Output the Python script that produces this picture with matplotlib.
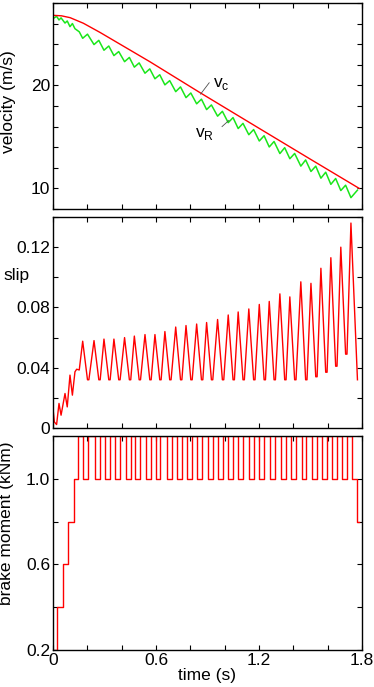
import matplotlib
matplotlib.use("Agg")
import matplotlib.pyplot as plt
import numpy as np

plt.rcParams['font.family'] = ['Liberation Sans', 'DejaVu Sans']

# --- data ---
# vehicle (red) velocity
vc_t = [0.0, 0.05, 0.10, 0.177, 0.274, 0.371, 0.468, 0.565, 0.856, 1.20, 1.50, 1.784]
vc_v = [26.8, 26.75, 26.57, 26.03, 25.14, 24.19, 23.24, 22.29, 19.30, 15.84, 12.83, 10.0]

# wheel (green) velocity: start wiggles, then min/max of each cycle
vr_start_t = [0.002, 0.021, 0.035, 0.047, 0.070, 0.083, 0.099, 0.113, 0.128, 0.153]
vr_start_v = [26.5, 26.7, 26.35, 26.55, 26.05, 26.25, 25.7, 26.0, 25.5, 25.2]
vr_min_t = [0.173, 0.239, 0.297, 0.355, 0.417, 0.474, 0.536, 0.594, 0.652, 0.715,
            0.775, 0.837, 0.895, 0.959, 1.021, 1.079, 1.141, 1.202, 1.260, 1.322,
            1.380, 1.444, 1.503, 1.561, 1.619, 1.677, 1.736]
vr_min_v = [24.57, 23.96, 23.41, 22.89, 22.30, 21.77, 21.18, 20.64, 20.05, 19.39,
            18.81, 18.21, 17.65, 17.01, 16.38, 15.81, 15.21, 14.60, 14.02, 13.38,
            12.88, 12.16, 11.64, 10.99, 10.39, 9.79, 9.10]
vr_max_t = [0.201, 0.267, 0.325, 0.383, 0.445, 0.502, 0.564, 0.622, 0.680, 0.743,
            0.803, 0.865, 0.923, 0.987, 1.049, 1.107, 1.169, 1.230, 1.288, 1.350,
            1.408, 1.472, 1.531, 1.589, 1.647, 1.705, 1.774]
vr_max_v = [24.97, 24.37, 23.82, 23.28, 22.71, 22.18, 21.60, 21.03, 20.46, 19.85,
            19.26, 18.66, 18.10, 17.48, 16.87, 16.31, 15.71, 15.11, 14.55, 13.95,
            13.39, 12.76, 12.16, 11.57, 10.96, 10.31, 9.83]

# slip: ramp at start, then peaks / troughs of each cycle
slip_start_t = [0.002, 0.008, 0.021, 0.035, 0.047, 0.070, 0.083, 0.099, 0.113, 0.128, 0.138, 0.153]
slip_start_v = [0.0107, 0.004, 0.0023, 0.0163, 0.0085, 0.0229, 0.014, 0.0351, 0.0218, 0.0373, 0.039, 0.0385]
slip_peak_t = vr_min_t
slip_peak_v = [0.0576, 0.058, 0.059, 0.059, 0.060, 0.061, 0.062, 0.062, 0.064, 0.067,
               0.068, 0.069, 0.070, 0.072, 0.075, 0.077, 0.079, 0.082, 0.084, 0.089,
               0.087, 0.097, 0.096, 0.106, 0.113, 0.120, 0.136]
slip_trough_t = vr_max_t
slip_trough_v = [0.032, 0.032, 0.032, 0.032, 0.032, 0.032, 0.032, 0.032, 0.032, 0.032,
                 0.032, 0.032, 0.032, 0.032, 0.032, 0.032, 0.032, 0.032, 0.032, 0.032,
                 0.032, 0.032, 0.034, 0.037, 0.041, 0.049, 0.032]
slip_hold = 0.008  # flat bottom after each trough

# brake moment: initial steps, then dips from 1.2 down to 1.0
brake_step_t = [0.0, 0.025, 0.060, 0.089, 0.122, 0.148]
brake_step_v = [0.2, 0.4, 0.6, 0.8, 1.0, 1.2]
dip_start = [0.176, 0.245, 0.303, 0.361, 0.423, 0.480, 0.542, 0.600, 0.662, 0.722,
             0.779, 0.840, 0.901, 0.959, 1.021, 1.079, 1.143, 1.201, 1.264, 1.326,
             1.386, 1.448, 1.508, 1.566, 1.625, 1.683, 1.745]
dip_end = [0.205, 0.274, 0.332, 0.390, 0.452, 0.509, 0.571, 0.623, 0.691, 0.749,
           0.811, 0.869, 0.934, 0.992, 1.050, 1.108, 1.172, 1.230, 1.293, 1.355,
           1.415, 1.477, 1.537, 1.595, 1.654, 1.712]
brake_end_t = [1.770, 1.784]
brake_end_v = [0.8, 0.8]


def zip_extrema(t_a, v_a, t_b, v_b, hold=0.0):
    t, v = [], []
    for i in range(len(t_a)):
        t.append(t_a[i]); v.append(v_a[i])
        if i < len(t_b):
            t.append(t_b[i]); v.append(v_b[i])
            if hold and i < len(t_a) - 1:
                t.append(t_b[i] + hold); v.append(v_b[i])
    return t, v


RED = (1.0, 0.0, 0.0)
GREEN = (0.1, 0.9, 0.1)
FS = 12.5

fig = plt.figure(figsize=(3.74, 6.87), dpi=100)
ax1 = fig.add_axes([0.1417, 0.6958, 0.826, 0.2999])
ax2 = fig.add_axes([0.1417, 0.3770, 0.826, 0.3071])
ax3 = fig.add_axes([0.1417, 0.0539, 0.826, 0.3115])

xticks = np.round(np.arange(0, 1.81, 0.2), 2)
xlabels = ['0', '', '', '0.6', '', '', '1.2', '', '', '1.8']

# velocity
t, v = zip_extrema(vr_min_t, vr_min_v, vr_max_t, vr_max_v)
ax1.plot(vr_start_t + t, vr_start_v + v, color=GREEN, lw=1.1)
ax1.plot(vc_t, vc_v, color=RED, lw=1.0)
ax1.set_ylim(8, 28)
ax1.set_yticks(range(8, 29, 2))
ax1.set_yticklabels(['', '10', '', '', '', '', '20', '', '', '', ''])
ax1.set_ylabel('velocity (m/s)')
ax1.yaxis.set_label_coords(-0.12, 0.52)
ax1.plot([0.860, 0.910], [19.15, 20.25], color='0.3', lw=0.6)
ax1.text(0.93, 20.1, 'v$_\\mathregular{c}$', fontsize=FS, va='center')
ax1.plot([0.985, 1.025], [16.0, 16.6], color='0.3', lw=0.6)
ax1.text(0.83, 15.3, 'v$_\\mathregular{R}$', fontsize=FS, va='center')

# slip
t, v = zip_extrema(slip_peak_t, slip_peak_v, slip_trough_t, slip_trough_v, slip_hold)
ax2.plot(slip_start_t + t, slip_start_v + v, color=RED, lw=1.0)
ax2.set_ylim(0, 0.14)
ax2.set_yticks(np.round(np.arange(0, 0.141, 0.02), 2))
ax2.set_yticklabels(['0', '', '0.04', '', '0.08', '', '0.12', ''])
ax2.set_ylabel('slip', rotation=0, ha='center', va='center')
ax2.yaxis.set_label_coords(-0.118, 0.725)

# brake moment
bt, bv = list(brake_step_t), list(brake_step_v)
for i in range(len(dip_start)):
    bt += [dip_start[i]]; bv += [1.0]
    if i < len(dip_end):
        bt += [dip_end[i]]; bv += [1.2]
bt += brake_end_t; bv += brake_end_v
ax3.step(bt, bv, where='post', color=RED, lw=1.0)
ax3.set_ylim(0.2, 1.2)
ax3.set_yticks([0.2, 0.4, 0.6, 0.8, 1.0, 1.2])
ax3.set_yticklabels(['0.2', '', '0.6', '', '1.0', ''])
ax3.set_ylabel('brake moment (kNm)')
ax3.yaxis.set_label_coords(-0.126, 0.593)
ax3.set_xlabel('time (s)')
ax3.xaxis.set_label_coords(0.5, -0.12)
ax3.xaxis.label.set_va('center')

for ax in (ax1, ax2, ax3):
    ax.set_xlim(0, 1.8)
    ax.set_xticks(xticks)
    ax.set_xticklabels(xlabels if ax is ax3 else [''] * len(xticks))
    ax.tick_params(direction='in', length=3.5, width=0.8, top=True, right=True,
                   labelsize=FS, pad=2)
    ax.yaxis.label.set_size(FS)
    ax.xaxis.label.set_size(FS)
    for s in ax.spines.values():
        s.set_linewidth(1.0)

fig.savefig('out.png', dpi=100)
